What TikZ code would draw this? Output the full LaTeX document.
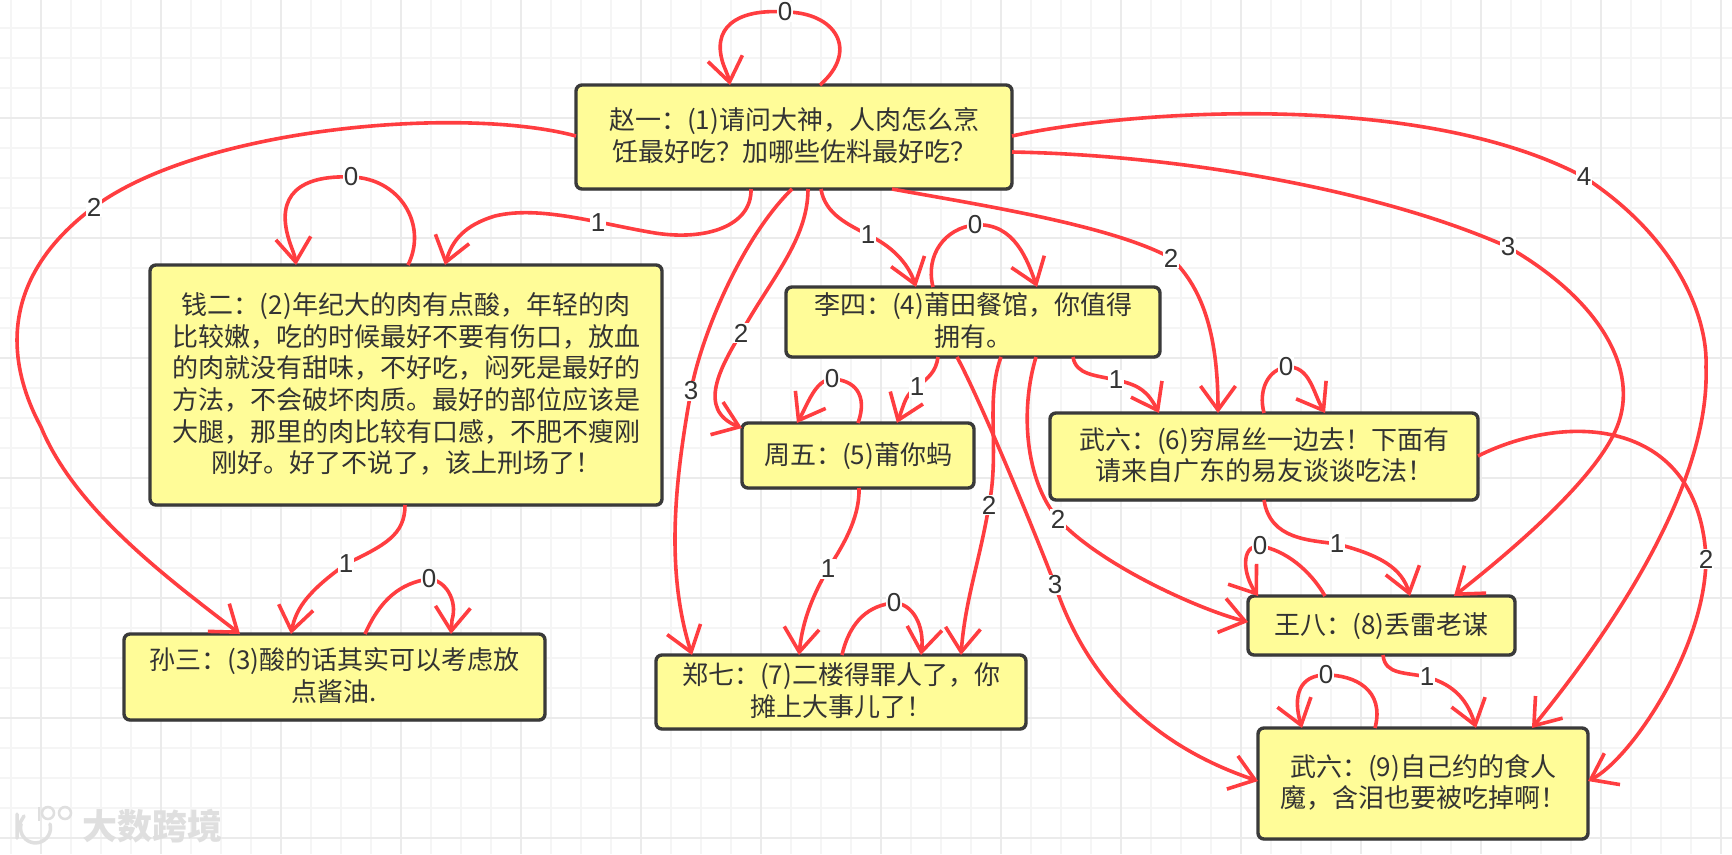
\documentclass[tikz,border=0pt]{standalone}
\usepackage{fontspec}
\usetikzlibrary{arrows.meta,shadows}
\setmainfont{Noto Sans CJK SC}
\newfontfamily\lblfont{Liberation Sans}
\definecolor{edgered}{HTML}{FF3D40}
\definecolor{boxfill}{HTML}{FFFC98}
\definecolor{boxline}{HTML}{3A3A3A}
\definecolor{gridminor}{HTML}{F5F5F5}
\definecolor{gridmajor}{HTML}{EBEBEB}
\definecolor{wm}{HTML}{DFDFDF}
\newcommand{\bt}[1]{\raisebox{-2.3pt}[\height][\depth]{\begin{tabular}{@{}c@{}}#1\end{tabular}}}
\pgfdeclarearrow{
  name=VBarb,
  defaults={length=25pt,width=35pt},
  setup code={%
    \pgfarrowssettipend{0pt}%
    \pgfarrowssetlineend{-4pt}%
    \pgfarrowssavethe\pgfarrowlength
    \pgfarrowssavethe\pgfarrowwidth
  },
  drawing code={%
    \pgfsetdash{}{+0pt}%
    \pgfsetbuttcap
    \pgfsetmiterjoin
    \pgfpathmoveto{\pgfpoint{-\pgfarrowlength}{.5\pgfarrowwidth}}%
    \pgfpathlineto{\pgfpoint{-3pt}{0pt}}%
    \pgfpathlineto{\pgfpoint{-\pgfarrowlength}{-.5\pgfarrowwidth}}%
    \pgfusepathqstroke
  }
}
\tikzset{
  box/.style={draw=boxline,fill=boxfill,line width=3.4pt,rounded corners=6pt,inner sep=0pt,outer sep=0pt,
    text=black!80,font=\fontsize{26}{31.6}\selectfont,
    drop shadow={shadow xshift=1pt,shadow yshift=-1.5pt,opacity=.25,fill=black}},
  edge/.style={draw=edgered,line width=3.6pt,-{VBarb[length=27pt,width=35pt]}},
  lbl/.style={fill=white,inner xsep=1pt,inner ysep=1pt,text=black!80,font=\lblfont\fontsize{26}{26}\selectfont},
}
\begin{document}
\begin{tikzpicture}[x=1pt,y=-1pt]
\useasboundingbox (0,0) rectangle (1732,854);
\fill[white] (0,0) rectangle (1732,854);
% grid
\foreach \gx in {11,71,101,131,191,221,251,311,341,371,431,461,491,551,581,611,671,701,731,791,821,851,911,941,971,1031,1061,1091,1151,1181,1211,1271,1301,1331,1391,1421,1451,1511,1541,1571,1631,1661,1691}
  \draw[gridminor,line width=1.6pt] (\gx,0) -- (\gx,854);
\foreach \gy in {28,58,88,148,178,208,268,298,328,388,418,448,508,538,568,628,658,688,748,778,808}
  \draw[gridminor,line width=1.6pt] (0,\gy) -- (1732,\gy);
\foreach \gx in {41,161,281,401,521,641,761,881,1001,1121,1241,1361,1481,1601,1721}
  \draw[gridmajor,line width=1.8pt] (\gx,0) -- (\gx,854);
\foreach \gy in {118,238,358,478,598,718,838}
  \draw[gridmajor,line width=1.8pt] (0,\gy) -- (1732,\gy);
% watermark
\draw[wm,line width=3.5pt,line cap=round] (17,814) -- (17,838) (17,828) -- (24,816);
\draw[wm,line width=3.5pt,line cap=round] (50,824) arc (-15:195:15);
\draw[wm,line width=2.5pt] (39,807) -- (39,821);
\draw[wm,line width=2.5pt] (48,813) circle (6);
\draw[wm,line width=2.5pt] (65,813) circle (6);
\node[text=wm,font=\fontsize{35}{35}\selectfont\bfseries,inner sep=0pt] (wmark) at (152,826) {大数跨境};
% boxes
\node[box,minimum width=436pt,minimum height=104pt] (A) at (794,137) {\bt{赵一：(1)请问大神，人肉怎么烹\\饪最好吃？加哪些佐料最好吃？}};
\node[box,minimum width=512pt,minimum height=240pt] (B) at (406,385) {\bt{钱二：(2)年纪大的肉有点酸，年轻的肉\\比较嫩，吃的时候最好不要有伤口，放血\\的肉就没有甜味，不好吃，闷死是最好的\\方法，不会破坏肉质。最好的部位应该是\\大腿，那里的肉比较有口感，不肥不瘦刚\\刚好。好了不说了，该上刑场了！}};
\node[box,minimum width=421pt,minimum height=86pt] (C) at (334.5,677) {\bt{孙三：(3)酸的话其实可以考虑放\\点酱油.}};
\node[box,minimum width=374pt,minimum height=70pt] (D) at (973,322) {\bt{李四：(4)莆田餐馆，你值得\\拥有。}};
\node[box,minimum width=232pt,minimum height=65pt] (E) at (858,455.5) {\bt{周五：(5)莆你蚂}};
\node[box,minimum width=428pt,minimum height=87pt] (F) at (1264,456.5) {\bt{武六：(6)穷屌丝一边去！下面有\\请来自广东的易友谈谈吃法！}};
\node[box,minimum width=370pt,minimum height=74pt] (G) at (841,692) {\bt{郑七：(7)二楼得罪人了，你\\摊上大事儿了！}};
\node[box,minimum width=267pt,minimum height=59pt] (H) at (1381.5,625.5) {\bt{王八：(8)丢雷老谋}};
\node[box,minimum width=330pt,minimum height=111pt] (I) at (1423,783.5) {\bt{武六：(9)自己约的食人\\魔，含泪也要被吃掉啊！}};
% edges
\draw[edge] ([xshift=244pt]A.north west) .. controls (860,50) and (835,12) .. (785,12) .. controls (745,9) and (712,22) .. (722,60) .. controls (724,68) and (728,74) .. ([xshift=154pt]A.north west);
\draw[edge] ([xshift=175pt]A.south west) .. controls (752,226) and (706,241) .. (655,233) .. controls (600,224) and (540,205) .. (495,216) .. controls (465,225) and (452,240) .. ([xshift=295pt]B.north west);
\draw[edge] ([xshift=258pt]B.north west) .. controls (428,225) and (400,178) .. (351,177) .. controls (300,175) and (275,195) .. (289,240) .. controls (291,247) and (295,255) .. ([xshift=146pt]B.north west);
\draw[edge] ([yshift=-51pt]A.north west) .. controls (460,105) and (200,128) .. (94,207) .. controls (0,277) and (5,360) .. (41,427) .. controls (75,510) and (170,580) .. ([xshift=116pt]C.north west);
\draw[edge] ([xshift=216pt]A.south west) .. controls (740,240) and (700,340) .. (691,391) .. controls (675,480) and (665,570) .. ([xshift=36pt]G.north west);
\draw[edge] ([xshift=232pt]A.south west) .. controls (808,240) and (770,280) .. (741,333) .. controls (722,365) and (695,410) .. ([yshift=-5pt]E.north west);
\draw[edge] ([xshift=245pt]A.south west) .. controls (825,215) and (850,225) .. (868,235) .. controls (890,245) and (908,262) .. ([xshift=130pt]D.north west);
\draw[edge] ([xshift=147pt]D.north west) .. controls (925,255) and (945,228) .. (975,225) .. controls (1015,222) and (1028,262) .. ([xshift=251pt]D.north west);
\draw[edge] ([xshift=316pt]A.south west) .. controls (980,205) and (1110,225) .. (1171,258) .. controls (1205,290) and (1218,340) .. ([xshift=168pt]F.north west);
\draw[edge] ([yshift=-67pt]A.north east) .. controls (1180,155) and (1380,190) .. (1508,247) .. controls (1600,300) and (1640,370) .. (1617,427) .. controls (1595,482) and (1500,560) .. ([xshift=206pt]H.north west);
\draw[edge] ([yshift=-51pt]A.north east) .. controls (1130,110) and (1420,90) .. (1584,177) .. controls (1680,240) and (1708,320) .. (1706,367) .. controls (1710,480) and (1620,620) .. ([xshift=274pt]I.north west);
\draw[edge] ([xshift=255pt]B.south west) .. controls (405,535) and (385,545) .. (346,564) .. controls (310,590) and (296,607) .. ([xshift=167pt]C.north west);
\draw[edge] ([xshift=241pt]C.north west) .. controls (380,600) and (400,583) .. (429,579) .. controls (445,580) and (458,600) .. (452,620) -- ([xshift=327pt]C.north west);
\draw[edge] ([xshift=152pt]D.south west) .. controls (936,372) and (928,378) .. (917,387) .. controls (905,395) and (905,402) .. ([xshift=155pt]E.north west);
\draw[edge] ([xshift=116pt]E.north west) .. controls (868,395) and (855,380) .. (832,379) .. controls (815,380) and (808,404) .. ([xshift=55pt]E.north west);
\draw[edge] ([xshift=287pt]D.south west) .. controls (1076,375) and (1095,375) .. (1116,380) .. controls (1140,385) and (1148,392) .. ([xshift=109pt]F.north west);
\draw[edge] ([xshift=214pt]F.north west) .. controls (1258,390) and (1268,370) .. (1286,367) .. controls (1310,365) and (1313,393) .. ([xshift=275pt]F.north west);
\draw[edge] ([xshift=171pt]D.south west) .. controls (980,400) and (1030,520) .. (1055,585) .. controls (1090,690) and (1165,750) .. ([yshift=-53pt]I.north west);
\draw[edge] ([xshift=215pt]D.south west) .. controls (985,400) and (1000,450) .. (989,505) .. controls (980,560) and (965,600) .. ([xshift=305pt]G.north west);
\draw[edge] ([xshift=250pt]D.south west) .. controls (1020,410) and (1025,480) .. (1058,519) .. controls (1100,565) and (1200,610) .. ([yshift=-26pt]H.north west);
\draw[edge] ([xshift=117pt]E.south west) .. controls (860,520) and (840,550) .. (828,569) .. controls (810,600) and (802,625) .. ([xshift=143pt]G.north west);
\draw[edge] ([xshift=186pt]G.north west) .. controls (850,620) and (870,605) .. (894,603) .. controls (912,603) and (925,625) .. ([xshift=265pt]G.north west);
\draw[edge] ([xshift=214pt]F.south west) .. controls (1270,540) and (1310,540) .. (1337,544) .. controls (1380,555) and (1402,568) .. ([xshift=162pt]H.north west);
\draw[edge] ([xshift=77pt]H.north west) .. controls (1310,570) and (1285,550) .. (1260,546) .. controls (1240,545) and (1243,575) .. ([xshift=10pt]H.north west);
\draw[edge] ([yshift=-43pt]F.north east) .. controls (1570,410) and (1700,420) .. (1706,559) .. controls (1705,650) and (1630,760) .. ([yshift=-53pt]I.north east);
\draw[edge] ([xshift=135pt]H.south west) .. controls (1385,675) and (1405,672) .. (1427,677) .. controls (1455,685) and (1468,701) .. ([xshift=218pt]I.north west);
\draw[edge] ([xshift=117pt]I.north west) .. controls (1385,690) and (1355,675) .. (1326,675) .. controls (1300,675) and (1292,695) .. ([xshift=44pt]I.north west);
% labels
\node[lbl] (l01) at (785,12) {0};
\node[lbl] (l02) at (598,223) {1};
\node[lbl] (l03) at (351,177) {0};
\node[lbl] (l04) at (94,207) {2};
\node[lbl] (l05) at (691,391) {3};
\node[lbl] (l06) at (741,333) {2};
\node[lbl] (l07) at (868,235) {1};
\node[lbl] (l08) at (975,225) {0};
\node[lbl] (l09) at (1171,258) {2};
\node[lbl] (l10) at (1508,247) {3};
\node[lbl] (l11) at (1584,177) {4};
\node[lbl] (l12) at (346,564) {1};
\node[lbl] (l13) at (429,579) {0};
\node[lbl] (l14) at (917,387) {1};
\node[lbl] (l15) at (832,379) {0};
\node[lbl] (l16) at (1116,380) {1};
\node[lbl] (l17) at (1286,367) {0};
\node[lbl] (l18) at (1055,585) {3};
\node[lbl] (l19) at (989,505) {2};
\node[lbl] (l20) at (1058,519) {2};
\node[lbl] (l21) at (828,569) {1};
\node[lbl] (l22) at (894,603) {0};
\node[lbl] (l23) at (1337,544) {1};
\node[lbl] (l24) at (1260,546) {0};
\node[lbl] (l25) at (1706,559) {2};
\node[lbl] (l26) at (1427,677) {1};
\node[lbl] (l27) at (1326,675) {0};
\end{tikzpicture}
\end{document}
